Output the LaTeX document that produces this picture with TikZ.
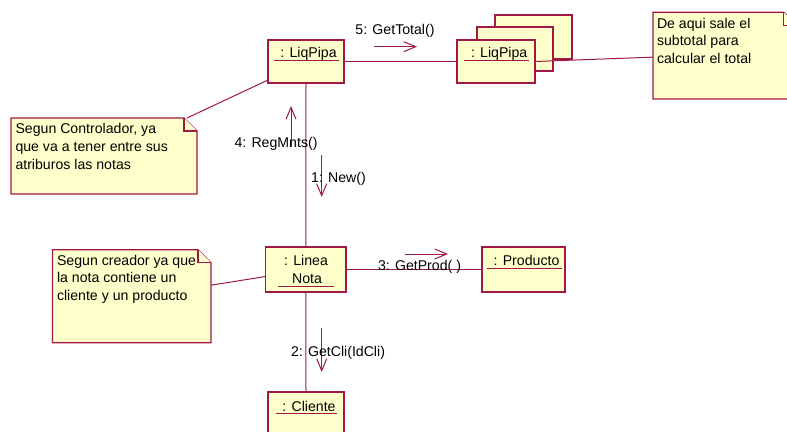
\documentclass[tikz,border=0pt]{standalone}
\usepackage{fontspec}
\setmainfont{Liberation Sans}
\usetikzlibrary{arrows.meta,calc}
\definecolor{umlline}{RGB}{160,24,70}
\definecolor{umlfill}{RGB}{255,255,204}

% UML note: rectangle with a folded top-right corner, drawn on a named node
\newcommand\umlnote[1]{%
  \filldraw[notebd] (#1.north west) -- ($(#1.north east)+(-13,0)$)
    -- ($(#1.north east)+(0,13)$) -- (#1.south east) -- (#1.south west) -- cycle;
  \draw[notebd] ($(#1.north east)+(-13,0)$) |- ($(#1.north east)+(0,13)$);
}

\begin{document}
\begin{tikzpicture}[x=0.75pt,y=-0.75pt,
  every node/.style={font=\fontsize{10.6}{13.3}\selectfont, inner sep=0pt, outer sep=0pt},
  objbox/.style 2 args={draw=umlline, fill=umlfill, line width=0.9pt, rectangle,
    minimum width=#1*0.75pt, minimum height=#2*0.75pt},
  notebox/.style 2 args={rectangle, minimum width=#1*0.75pt, minimum height=#2*0.75pt},
  notebd/.style={draw=umlline, fill=umlfill, line width=0.9pt, line join=miter},
  link/.style={draw=umlline, line width=0.75pt},
  msg/.style={draw=umlline, line width=0.75pt, -{Straight Barb[length=9pt,width=7.5pt]}},
  lbl/.style={anchor=base, text=black},
  uline/.style={draw=umlline, line width=0.75pt},
  % multi-line text: the base anchor sits on the last line
  notetext/.style={anchor=base west, align=left},
]
\useasboundingbox (0,0) rectangle (787,431);

% ---- objects ----
\node[objbox={76}{43}] (liq1) at (306,61.5) {};
\node[objbox={77}{44}] (liqback) at (533.5,37) {};
\node[objbox={76}{44}] (liqmid) at (515,49) {};
\node[objbox={78}{43}] (liq2) at (496,61.5) {};
\node[objbox={80.5}{45}] (linea) at (305.75,269.5) {};
\node[objbox={83}{45}] (prod) at (523.5,269.5) {};
\node[objbox={76}{45}] (cli) at (306,414.5) {};

% object names, underlined
\node[lbl] (tliq1) at (308.5,58) {: LiqPipa};
\draw[uline] (274,60.3) -- (339,60.3);
\node[lbl] (tliq2) at (499.2,58) {: LiqPipa};
\draw[uline] (464,60.3) -- (528.7,60.3);
\node[lbl] (tlinea) at (306,265) {: Linea};
\node[lbl] (tnota) at (307,283) {Nota};
\draw[uline] (278,286) -- (334,286);
\node[lbl] (tprod) at (526.5,265) {: Producto};
\draw[uline] (487,268.6) -- (562,268.6);
\node[lbl] (tcli) at (309,411) {: Cliente};
\draw[uline] (276,413) -- (337,413);

% ---- notes ----
\node[notebox={186}{76}] (n1) at (104,156) {};
\umlnote{n1}
\node[notetext] (n1t) at (15.5,169.4) {Segun Controlador, ya\\que va a tener entre sus\\atriburos las notas};

\node[notebox={158.5}{93}] (n2) at (131.75,296.2) {};
\umlnote{n2}
\node[notetext] (n2t) at (57,300.5) {Segun creador ya que\\la nota contiene un\\cliente y un producto};

\node[notebox={143.7}{86.7}] (n5) at (724.85,55.65) {};
\umlnote{n5}
\node[notetext] (n5t) at (657,63.5) {De aqui sale el\\subtotal para\\calcular el total};

% ---- links ----
\draw[link] (liq1.east) -- (liq2.west);
\draw[link] (liq1.south) -- (linea.north);
\draw[link] (linea.south) -- (cli.north);
\draw[link] (linea.east) -- (prod.west);
\draw[link] (liq2.east) -- ($(n5.west)+(0,1.5)$);
\draw[link] ($(n1.north east)+(-10,0)$) -- ($(liq1.south west)+(0,-3)$);
\draw[link] ($(n2.east)+(0,-11)$) -- ($(linea.west)+(0,7)$);

% ---- messages ----
\coordinate (m5a) at (374,46.7); \coordinate (m5b) at (417,46.7);
\coordinate (m4a) at (291,147);  \coordinate (m4b) at (291,106);
\coordinate (m1a) at (321.7,155); \coordinate (m1b) at (321.7,197);
\coordinate (m3a) at (405,254);  \coordinate (m3b) at (448,254);
\coordinate (m2a) at (321.7,328); \coordinate (m2b) at (321.7,372);
\draw[msg] (m5a) -- (m5b);
\draw[msg] (m4a) -- (m4b);
\draw[msg] (m1a) -- (m1b);
\draw[msg] (m3a) -- (m3b);
\draw[msg] (m2a) -- (m2b);

\node[lbl] (l5) at (395,35) {5: GetTotal()};
\node[lbl] (l4) at (276,147) {4: RegMnts()};
\node[lbl] (l1) at (338.5,182) {1: New()};
\node[lbl] (l3) at (419.5,270.5) {3: GetProd( )};
\node[lbl] (l2) at (338,356) {2: GetCli(IdCli)};
\end{tikzpicture}
\end{document}
